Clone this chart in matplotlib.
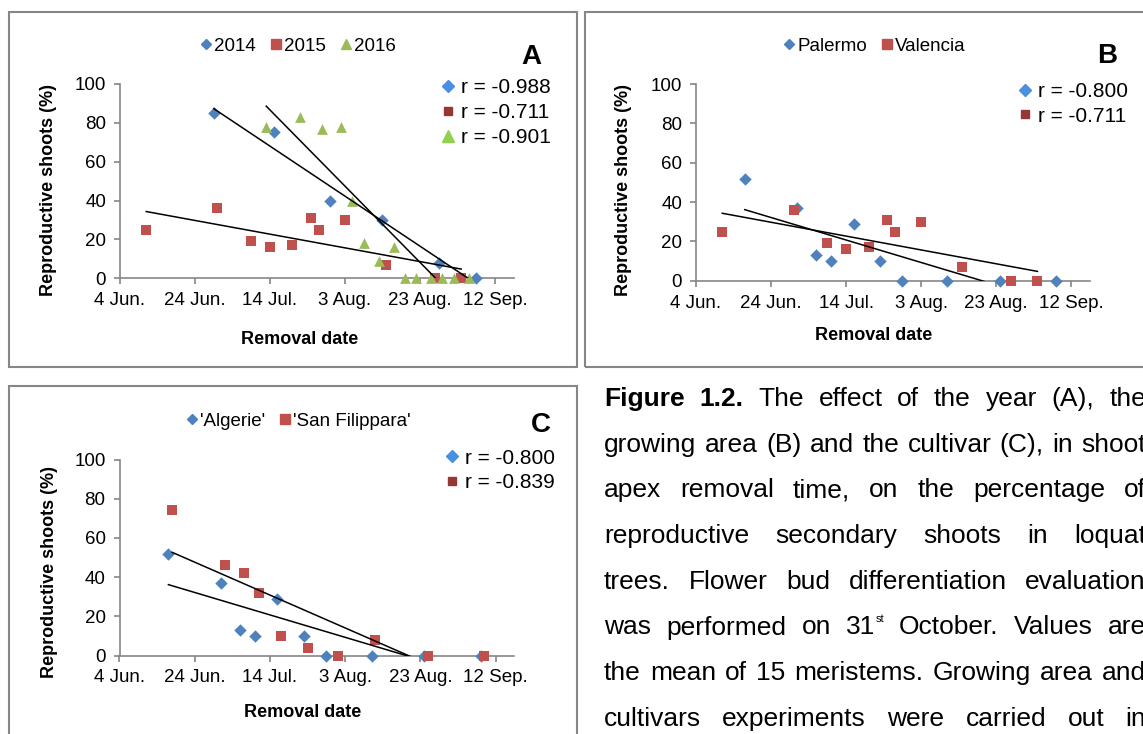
import numpy as np
import pandas as pd
import matplotlib
matplotlib.use("Agg")
import matplotlib.pyplot as plt
import matplotlib.dates as mdates
from matplotlib.lines import Line2D
from matplotlib.patches import Rectangle

plt.rcParams["font.family"] = ["Liberation Sans", "DejaVu Sans"]

YEAR = "2015-"

# A - year of the trial
dates_2014 = ["06-29", "07-15", "07-30", "08-13", "08-28", "09-07"]
shoots_2014 = [85, 75, 40, 30, 8, 0]
dates_2015 = ["06-11", "06-30", "07-09", "07-14", "07-20", "07-25", "07-27", "08-03", "08-14", "08-27", "09-03"]
shoots_2015 = [25, 36, 19, 16, 17, 31, 25, 30, 7, 0, 0]
dates_2016 = ["07-13", "07-22", "07-28", "08-02", "08-05", "08-08", "08-12", "08-16",
              "08-19", "08-22", "08-26", "08-29", "09-01", "09-05"]
shoots_2016 = [78, 83, 77, 78, 40, 18, 9, 16, 0, 0, 0, 0, 0, 0]
r_year = ["r = -0.988", "r = -0.711", "r = -0.901"]

# B - growing area
dates_palermo = ["06-17", "07-01", "07-06", "07-10", "07-16", "07-23", "07-29", "08-10", "08-24", "09-08"]
shoots_palermo = [52, 37, 13, 10, 29, 10, 0, 0, 0, 0]
dates_valencia = dates_2015
shoots_valencia = shoots_2015
r_area = ["r = -0.800", "r = -0.711"]

# C - cultivar
dates_algerie = dates_palermo
shoots_algerie = shoots_palermo
dates_sanfil = ["06-18", "07-02", "07-07", "07-11", "07-17", "07-24", "08-01", "08-11", "08-25", "09-09"]
shoots_sanfil = [74, 46, 42, 32, 10, 4, 0, 8, 0, 0]
r_cultivar = ["r = -0.800", "r = -0.839"]

tick_dates = ["06-04", "06-24", "07-14", "08-03", "08-23", "09-12"]
tick_labels = ["4 Jun.", "24 Jun.", "14 Jul.", "3 Aug.", "23 Aug.", "12 Sep."]
x_range = ["06-04", "09-17"]

caption_lines = [
    "Figure 1.2. The effect of the year (A), the",
    "growing area (B) and the cultivar (C), in shoot",
    "apex removal time, on the percentage of",
    "reproductive secondary shoots in loquat",
    "trees. Flower bud differentiation evaluation",
    "was performed on 31^st October. Values are",
    "the mean of 15 meristems. Growing area and",
    "cultivars experiments were carried out in",
]

W, H = 1143, 734
BLUE, RED, GREEN = "#4F81BD", "#C0504D", "#9BBB59"
AXIS = "#868686"
FRAME = "#868686"

STYLE = {
    "D": dict(marker="D", s=40),
    "s": dict(marker="s", s=56),
    "^": dict(marker="^", s=60),
}


def dt(md):
    return pd.to_datetime([YEAR + d for d in md])


def fpos(l, t, r, b):
    return [l / W, 1 - b / H, (r - l) / W, (b - t) / H]


fig = plt.figure(figsize=(W / 100, H / 100), dpi=100)

for l, t, r, b in [(8.5, 12, 576.5, 366.5), (584.5, 12, 1170, 366.5), (8.5, 385.5, 576.5, 760)]:
    fig.add_artist(Rectangle((l / W, 1 - b / H), (r - l) / W, (b - t) / H,
                             transform=fig.transFigure, fill=False, ec=FRAME, lw=1.5))


def panel(rect, series, names, rvals, letter, leg_xy, rleg_xy, letter_xy, ylab_xy, xlab_xy):
    ax = fig.add_axes(fpos(*rect))
    handles = []
    for (d, v, mk, col) in series:
        x = dt(d)
        ax.scatter(x, v, color=col, linewidths=0, zorder=3, clip_on=False, **STYLE[mk])
        xn = mdates.date2num(x)
        k, b = np.polyfit(xn, v, 1)
        xs = np.array([xn.min(), xn.max()])
        ax.plot(xs, k * xs + b, color="black", lw=1.1, zorder=4)
        handles.append(Line2D([], [], ls="", marker=mk, color=col,
                              ms={"D": 5.5, "s": 7, "^": 7.5}[mk]))
    ax.set_xlim(dt(x_range))
    ax.set_ylim(0, 100)
    ax.set_yticks(range(0, 101, 20))
    ax.set_xticks(dt(tick_dates))
    ax.set_xticklabels(tick_labels)
    for s in ["top", "right"]:
        ax.spines[s].set_visible(False)
    for s in ["left", "bottom"]:
        ax.spines[s].set_color(AXIS)
        ax.spines[s].set_linewidth(1.2)
    ax.tick_params(axis="both", direction="out", length=4, width=1.2, color=AXIS, labelsize=13.5)
    ax.tick_params(axis="x", pad=6)
    ax.tick_params(axis="y", pad=6)
    ax.set_ylabel("Reproductive shoots (%)", fontsize=13, fontweight="bold")
    ax.yaxis.set_label_coords(ylab_xy[0] / W, 1 - ylab_xy[1] / H, transform=fig.transFigure)
    ax.set_xlabel("Removal date", fontsize=13, fontweight="bold")
    ax.xaxis.set_label_coords(xlab_xy[0] / W, 1 - xlab_xy[1] / H, transform=fig.transFigure)
    ax.xaxis.label.set_va("center")
    ax.yaxis.label.set_va("center")

    leg = ax.legend(handles, names, loc="center", ncol=len(names), frameon=False, fontsize=13.5,
                    bbox_to_anchor=(leg_xy[0] / W, 1 - leg_xy[1] / H), bbox_transform=fig.transFigure,
                    handlelength=0.6, handletextpad=0.15, columnspacing=0.75, borderpad=0, borderaxespad=0)
    ax.add_artist(leg)
    rcols = {"D": "#4A8FE0", "s": "#953735", "^": "#92D050"}
    rms = {"D": 6.5, "s": 5.5, "^": 8}
    rh = [Line2D([], [], ls="", marker=h.get_marker(), color=rcols[h.get_marker()], ms=rms[h.get_marker()])
          for h in handles]
    ax.legend(rh, rvals, loc="center left", frameon=False, fontsize=15,
              bbox_to_anchor=(rleg_xy[0] / W, 1 - rleg_xy[1] / H), bbox_transform=fig.transFigure,
              handlelength=0.7, handletextpad=0.25, labelspacing=0.28, borderpad=0, borderaxespad=0)
    fig.text(letter_xy[0] / W, 1 - letter_xy[1] / H, letter, fontsize=20, fontweight="bold",
             ha="center", va="center")
    return ax


panel((120, 83.8, 513.7, 278.3),
      [(dates_2014, shoots_2014, "D", BLUE), (dates_2015, shoots_2015, "s", RED),
       (dates_2016, shoots_2016, "^", GREEN)],
      ["2014", "2015", "2016"], r_year, "A",
      (298, 46), (441, 112.5), (531, 56.5), (49, 190), (300, 339))

panel((696, 84.2, 1090, 280.7),
      [(dates_palermo, shoots_palermo, "D", BLUE), (dates_valencia, shoots_valencia, "s", RED)],
      ["Palermo", "Valencia"], r_area, "B",
      (874.5, 46), (1018, 103.8), (1107, 56), (623, 190), (874, 336))

panel((119.5, 459.5, 514.5, 655.5),
      [(dates_algerie, shoots_algerie, "D", BLUE), (dates_sanfil, shoots_sanfil, "s", RED)],
      ["'Algerie'", "'San Filippara'"], r_cultivar, "C",
      (298.5, 421), (445, 470.5), (541, 425), (49.6, 571.7), (303, 712.7))

# caption, justified between two margins
CAP_L, CAP_R = 604, 1146
CAP_TOP, CAP_STEP, CAP_FS = 406, 45.7, 19
rend = fig.canvas.get_renderer()
for i, line in enumerate(caption_lines):
    y = 1 - (CAP_TOP + i * CAP_STEP) / H
    pieces = []
    for j, w in enumerate(line.split(" ")):
        main, _, sup = w.partition("^")
        parts = [fig.text(0, y, main, fontsize=CAP_FS, va="baseline",
                          fontweight="bold" if (i == 0 and j < 2) else "normal")]
        if sup:
            parts.append(fig.text(0, y + 12 / H, sup, fontsize=8, va="baseline"))
        pieces.append(parts)
    widths = [[p.get_window_extent(rend).width for p in parts] for parts in pieces]
    gap = (CAP_R - CAP_L - sum(sum(ws) for ws in widths)) / (len(pieces) - 1)
    x = CAP_L
    for parts, ws in zip(pieces, widths):
        for p, wd in zip(parts, ws):
            p.set_x(x / W)
            x += wd
        x += gap

fig.savefig("out.png", dpi=100)
